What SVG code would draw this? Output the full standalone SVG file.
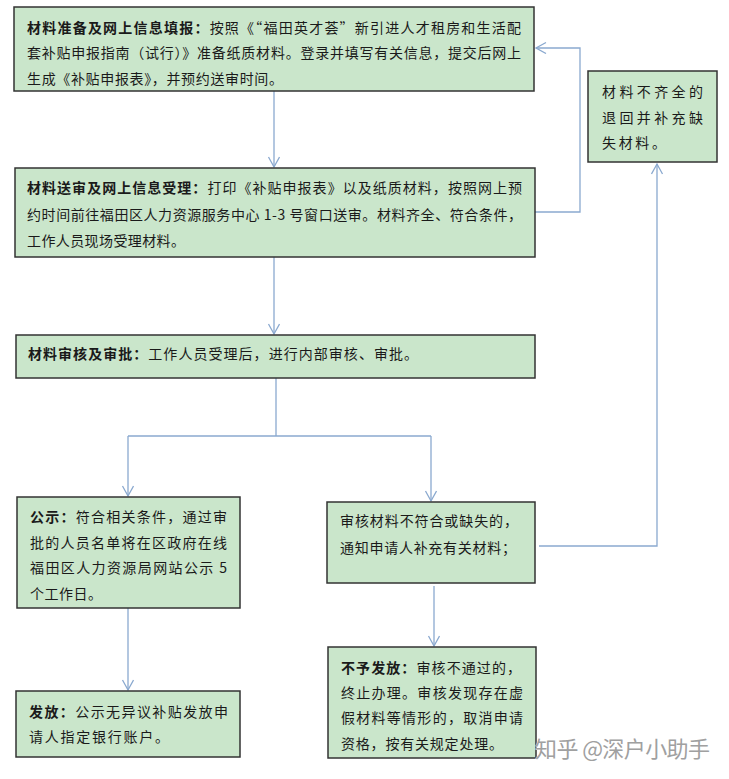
<svg xmlns="http://www.w3.org/2000/svg" width="729" height="779" viewBox="0 0 729 779">
<style>
.box{fill:#cae6cb;stroke:#333;stroke-width:1.5}
.t{font-family:"Noto Sans CJK SC","Noto Sans",sans-serif;font-size:14px;fill:#1a1a1a}
.b{font-weight:bold}
.c{fill:none;stroke:#8aa9cf;stroke-width:1.3}
.wm{font-family:"Noto Sans CJK SC","Noto Sans",sans-serif;font-size:22px;fill:#a0a0a0;stroke:#ffffff;stroke-width:0.6;paint-order:stroke}
</style>
<defs>
<marker id="ah" markerUnits="userSpaceOnUse" markerWidth="14" markerHeight="14" refX="11" refY="6" orient="auto">
<path d="M1,0.5 L11,6 L1,11.5" fill="none" stroke="#8aa9cf" stroke-width="1.3"/>
</marker>
</defs>
<rect width="729" height="779" fill="#ffffff"/>
<g id="connectors">
<path class="c" d="M274,91 V167" marker-end="url(#ah)"/>
<path class="c" d="M535,212 H580 V48 H536" marker-end="url(#ah)"/>
<path class="c" d="M274,257 V334" marker-end="url(#ah)"/>
<path class="c" d="M276,378 V436"/>
<path class="c" d="M128,436 H431"/>
<path class="c" d="M128,436 V496" marker-end="url(#ah)"/>
<path class="c" d="M431,436 V501" marker-end="url(#ah)"/>
<path class="c" d="M539,546 H657 V164" marker-end="url(#ah)"/>
<path class="c" d="M128,608 V690" marker-end="url(#ah)"/>
<path class="c" d="M434,586 V646" marker-end="url(#ah)"/>
</g>
<g id="n1">
<rect class="box" x="14" y="7" width="520" height="84"/>
<text class="t" x="27" y="33" textLength="494" lengthAdjust="spacing"><tspan class="b">材料准备及网上信息填报：</tspan>按照《“福田英才荟”新引进人才租房和生活配</text>
<text class="t" x="27" y="58" textLength="494" lengthAdjust="spacing">套补贴申报指南（试行）》准备纸质材料。登录并填写有关信息，提交后网上</text>
<text class="t" x="27" y="84" textLength="256" lengthAdjust="spacing">生成《补贴申报表》，并预约送审时间。</text>
</g>
<g id="n2">
<rect class="box" x="15" y="168" width="520" height="89"/>
<text class="t" x="27" y="193" textLength="495" lengthAdjust="spacing"><tspan class="b">材料送审及网上信息受理：</tspan>打印《补贴申报表》以及纸质材料，按照网上预</text>
<text class="t" x="27" y="220" textLength="495" lengthAdjust="spacing">约时间前往福田区人力资源服务中心 1-3 号窗口送审。材料齐全、符合条件，</text>
<text class="t" x="27" y="246" textLength="158" lengthAdjust="spacing">工作人员现场受理材料。</text>
</g>
<g id="n3">
<rect class="box" x="16" y="335" width="519" height="43"/>
<text class="t" x="28" y="359" textLength="390" lengthAdjust="spacing"><tspan class="b">材料审核及审批：</tspan>工作人员受理后，进行内部审核、审批。</text>
</g>
<g id="n4">
<rect class="box" x="17" y="497" width="223" height="111"/>
<text class="t" x="30" y="522" textLength="197" lengthAdjust="spacing"><tspan class="b">公示：</tspan>符合相关条件，通过审</text>
<text class="t" x="30" y="548" textLength="197" lengthAdjust="spacing">批的人员名单将在区政府在线</text>
<text class="t" x="30" y="573" textLength="197" lengthAdjust="spacing">福田区人力资源局网站公示 5</text>
<text class="t" x="30" y="599" textLength="72" lengthAdjust="spacing">个工作日。</text>
</g>
<g id="n5">
<rect class="box" x="327" y="502" width="208" height="81"/>
<text class="t" x="340" y="526" textLength="178" lengthAdjust="spacing">审核材料不符合或缺失的，</text>
<text class="t" x="340" y="553" textLength="176" lengthAdjust="spacing">通知申请人补充有关材料；</text>
</g>
<g id="n6">
<rect class="box" x="16" y="691" width="224" height="66"/>
<text class="t" x="29" y="717" textLength="199" lengthAdjust="spacing"><tspan class="b">发放：</tspan>公示无异议补贴发放申</text>
<text class="t" x="29" y="742" textLength="140" lengthAdjust="spacing">请人指定银行账户。</text>
</g>
<g id="n7">
<rect class="box" x="328" y="647" width="208" height="111"/>
<text class="t" x="341" y="673" textLength="180" lengthAdjust="spacing"><tspan class="b">不予发放：</tspan>审核不通过的，</text>
<text class="t" x="341" y="698" textLength="182" lengthAdjust="spacing">终止办理。审核发现存在虚</text>
<text class="t" x="341" y="723" textLength="182" lengthAdjust="spacing">假材料等情形的，取消申请</text>
<text class="t" x="341" y="749" textLength="162" lengthAdjust="spacing">资格，按有关规定处理。</text>
</g>
<g id="n8">
<rect class="box" x="588" y="71" width="129" height="91"/>
<text class="t" x="602" y="97" textLength="101" lengthAdjust="spacing">材料不齐全的</text>
<text class="t" x="602" y="123" textLength="101" lengthAdjust="spacing">退回并补充缺</text>
<text class="t" x="602" y="148" textLength="64" lengthAdjust="spacing">失材料。</text>
</g>
<text class="wm" x="535" y="757" textLength="175" lengthAdjust="spacing">知乎 @深户小助手</text>
</svg>
